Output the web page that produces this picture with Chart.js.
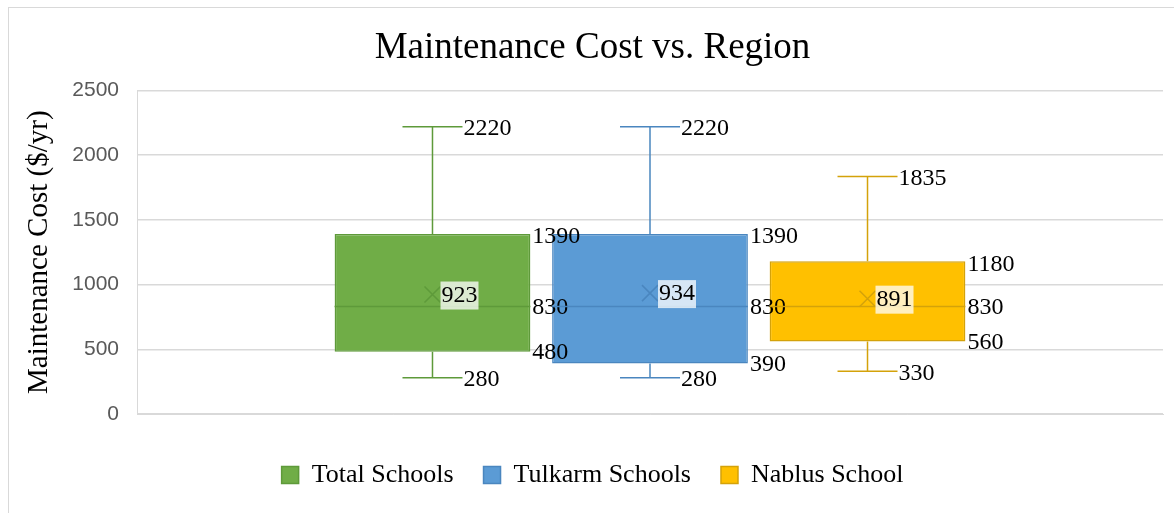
<!DOCTYPE html>
<html>
<head>
<meta charset="utf-8">
<script src="https://cdn.jsdelivr.net/npm/chart.js@4"></script>
<style>
  html, body { margin: 0; padding: 0; background: #fff; }
  #wrap { width: 1174px; height: 513px; position: relative; }
</style>
</head>
<body>
<div id="wrap"><canvas id="boxChart"></canvas></div>
<script>
// series names and five-number summaries
var seriesNames = ['Total Schools', 'Tulkarm Schools', 'Nablus School'];
var minVals = [280, 280, 330];
var q1Vals = [480, 390, 560];
var medianVals = [830, 830, 830];
var q3Vals = [1390, 1390, 1180];
var maxVals = [2220, 2220, 1835];
var meanVals = [923, 934, 891];
var yTicks = [0, 500, 1000, 1500, 2000, 2500];

var fillColors = ['#70AD47', '#5B9BD5', '#FFC000'];
var lineColors = ['#5E9A3A', '#4A86BF', '#D4A20A'];
var serif = '"Liberation Serif", "Times New Roman", serif';

// whiskers, median, mean marker and the value labels
var boxDecor = {
    id: 'boxDecor',
    beforeDraw: function (chart) {
        var ctx = chart.ctx;
        ctx.save();
        ctx.strokeStyle = '#d9d9d9';
        ctx.lineWidth = 1;
        ctx.strokeRect(8.5, 7.5, 1300, 700);
        ctx.restore();
    },
    afterDatasetsDraw: function (chart) {
        var ctx = chart.ctx;
        var y = chart.scales.y;
        ctx.save();
        chart.data.datasets.forEach(function (ds, i) {
            var bar = chart.getDatasetMeta(i).data[0];
            var cx = bar.x;
            var half = bar.width / 2;
            var right = cx + half;
            var capHalf = 30;
            var yMin = y.getPixelForValue(minVals[i]);
            var yMax = y.getPixelForValue(maxVals[i]);
            var yQ1 = y.getPixelForValue(q1Vals[i]);
            var yQ3 = y.getPixelForValue(q3Vals[i]);
            var yMed = y.getPixelForValue(medianVals[i]);
            var yMean = y.getPixelForValue(meanVals[i]);

            ctx.strokeStyle = lineColors[i];
            ctx.lineWidth = 1.5;
            ctx.beginPath();
            // upper whisker
            ctx.moveTo(cx, yQ3); ctx.lineTo(cx, yMax);
            ctx.moveTo(cx - capHalf, yMax); ctx.lineTo(cx + capHalf, yMax);
            // lower whisker
            ctx.moveTo(cx, yQ1); ctx.lineTo(cx, yMin);
            ctx.moveTo(cx - capHalf, yMin); ctx.lineTo(cx + capHalf, yMin);
            // median
            ctx.moveTo(cx - half, yMed); ctx.lineTo(cx + half, yMed);
            ctx.stroke();

            // mean marker
            ctx.beginPath();
            ctx.moveTo(cx - 8, yMean - 8); ctx.lineTo(cx + 8, yMean + 8);
            ctx.moveTo(cx - 8, yMean + 8); ctx.lineTo(cx + 8, yMean - 8);
            ctx.stroke();

            ctx.font = '24px ' + serif;
            ctx.fillStyle = '#000';
            ctx.textBaseline = 'middle';
            ctx.textAlign = 'left';

            // mean label with light backing
            var mt = String(meanVals[i]);
            var mw = ctx.measureText(mt).width;
            ctx.fillStyle = 'rgba(255,255,255,0.75)';
            ctx.fillRect(cx + 8, yMean - 13, mw + 2, 28);
            ctx.fillStyle = '#000';
            ctx.fillText(mt, cx + 9, yMean + 1);

            ctx.fillText(String(maxVals[i]), cx + capHalf + 1, yMax + 2);
            ctx.fillText(String(minVals[i]), cx + capHalf + 1, yMin + 2);
            ctx.fillText(String(q3Vals[i]), right + 2, yQ3 + 3);
            ctx.fillText(String(medianVals[i]), right + 2, yMed + 1);
            ctx.fillText(String(q1Vals[i]), right + 2, yQ1 + 1);
        });
        ctx.restore();
    }
};

var datasets = seriesNames.map(function (name, i) {
    return {
        label: name,
        data: [[q1Vals[i], q3Vals[i]]],
        backgroundColor: fillColors[i],
        borderColor: lineColors[i],
        borderWidth: 1.5,
        borderSkipped: false,
        categoryPercentage: 0.636,
        barPercentage: 0.9
    };
});

var boxCanvas = document.getElementById('boxChart').getContext('2d');
var boxChart = new Chart(boxCanvas, {
    type: 'bar',
    data: {
        labels: [''],
        datasets: datasets
    },
    options: {
        responsive: true,
        maintainAspectRatio: false,
        animation: false,
        layout: {
            padding: { left: 22, right: 11, top: 0, bottom: 15 }
        },
        plugins: {
            tooltip: { enabled: false },
            title: {
                display: true,
                text: 'Maintenance Cost vs. Region',
                color: '#000',
                font: { family: serif, size: 37, weight: 'normal' },
                padding: { top: 26, bottom: 20 }
            },
            legend: {
                position: 'bottom',
                labels: {
                    color: '#000',
                    font: { family: serif, size: 26 },
                    boxWidth: 17,
                    boxHeight: 17,
                    padding: 30
                }
            }
        },
        scales: {
            x: {
                ticks: { display: false },
                grid: { display: false },
                border: { display: true, color: '#d9d9d9' },
                afterFit: function (scale) { scale.height = 18; }
            },
            y: {
                min: 0,
                max: 2500,
                afterBuildTicks: function (scale) {
                    scale.ticks = yTicks.map(function (v) { return { value: v }; });
                },
                ticks: {
                    color: '#595959',
                    font: { family: '"Liberation Sans", Arial, sans-serif', size: 21 },
                    padding: 18,
                    callback: function (v) { return String(v); }
                },
                grid: { color: '#d9d9d9', drawTicks: false, lineWidth: 1.5 },
                border: { display: true, color: '#d9d9d9' },
                title: {
                    display: true,
                    text: 'Maintenance Cost ($/yr)',
                    color: '#000',
                    font: { family: serif, size: 29 },
                    padding: { top: 0, bottom: 0 }
                },
                afterFit: function (scale) { scale.width = 115; }
            }
        }
    },
    plugins: [boxDecor]
});
</script>
</body>
</html>
